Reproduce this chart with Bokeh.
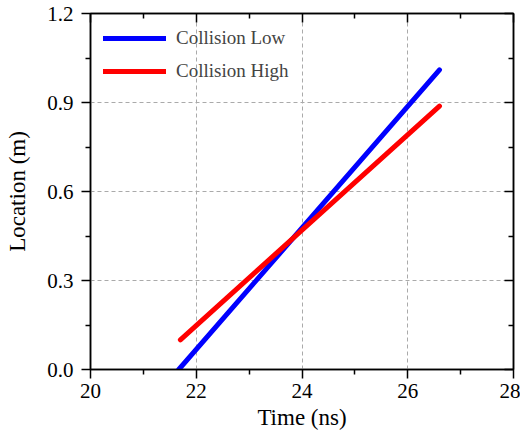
from bokeh.plotting import figure
from bokeh.models import LinearAxis, Legend, LegendItem, FixedTicker, PrintfTickFormatter, CustomJSTickFormatter
from bokeh.embed import file_html
from bokeh.resources import INLINE

# Data
low_time = [21.67, 26.6]
low_loc = [0.0, 1.01]
high_time = [21.7, 26.6]
high_loc = [0.10, 0.888]

x_ticks = [20, 22, 24, 26, 28]
y_ticks = [0.0, 0.3, 0.6, 0.9, 1.2]
x_minor = [21, 23, 25, 27]
y_minor = [0.15, 0.45, 0.75, 1.05]

FONT = "Liberation Serif"

p = figure(width=520, height=435, frame_width=423, frame_height=356,
           x_range=(20, 28), y_range=(0.0, 1.2),
           output_backend="svg", toolbar_location=None,
           min_border_left=90, min_border_right=7, min_border_top=13, min_border_bottom=60)
p.background_fill_color = "white"
p.outline_line_color = "black"
p.outline_line_width = 1.5

r_low = p.line(low_time, low_loc, line_color="#0000ff", line_width=5, line_cap="round")
r_high = p.line(high_time, high_loc, line_color="#ff0000", line_width=5, line_cap="round")

def style_axis(ax):
    ax.axis_line_color = "black"
    ax.axis_line_width = 1.5
    ax.major_tick_line_color = "black"
    ax.major_tick_line_width = 1.5
    ax.minor_tick_line_color = "black"
    ax.minor_tick_line_width = 1.5
    ax.major_label_text_font = FONT
    ax.major_label_text_font_size = "21px"
    ax.major_label_text_color = "black"
    ax.axis_label_text_font = FONT
    ax.axis_label_text_font_size = "23px"
    ax.axis_label_text_font_style = "normal"
    ax.axis_label_text_color = "black"

p.xaxis.ticker = FixedTicker(ticks=x_ticks, minor_ticks=x_minor)
p.yaxis.ticker = FixedTicker(ticks=y_ticks, minor_ticks=y_minor)
p.xaxis.axis_label = "Time (ns)"
p.yaxis.axis_label = "Location (m)"
for ax in (p.xaxis[0], p.yaxis[0]):
    style_axis(ax)
    ax.major_tick_out = 9
    ax.major_tick_in = 0
    ax.minor_tick_out = 5
    ax.minor_tick_in = 0
p.xaxis[0].major_label_standoff = 5
p.xaxis[0].axis_label_standoff = 4
p.yaxis[0].major_label_standoff = 8
p.yaxis[0].axis_label_standoff = 14
p.yaxis[0].formatter = PrintfTickFormatter(format="%.1f")

top = LinearAxis(ticker=FixedTicker(ticks=x_ticks, minor_ticks=x_minor))
right = LinearAxis(ticker=FixedTicker(ticks=y_ticks, minor_ticks=y_minor))
for ax in (top, right):
    style_axis(ax)
    ax.major_tick_out = 0
    ax.major_tick_in = 9
    ax.minor_tick_out = 0
    ax.minor_tick_in = 5
    ax.formatter = CustomJSTickFormatter(code="return ''")
    ax.major_label_standoff = 0
p.add_layout(top, "above")
p.add_layout(right, "right")

p.xgrid.ticker = FixedTicker(ticks=[22, 24, 26])
p.ygrid.ticker = FixedTicker(ticks=[0.3, 0.6, 0.9])
for g in (p.xgrid[0], p.ygrid[0]):
    g.grid_line_color = "#aaaaaa"
    g.grid_line_dash = "4 3"
    g.grid_line_width = 1

legend = Legend(items=[LegendItem(label="Collision Low", renderers=[r_low]),
                       LegendItem(label="Collision High", renderers=[r_high])],
                location="top_left")
legend.border_line_color = None
legend.background_fill_alpha = 0
legend.label_text_font = FONT
legend.label_text_font_size = "19px"
legend.glyph_width = 63
legend.glyph_height = 24
legend.label_height = 24
legend.spacing = 9
legend.padding = 4
legend.margin = 13
legend.label_standoff = 10
p.add_layout(legend, "center")

open("out.html", "w").write(file_html(p, INLINE))
